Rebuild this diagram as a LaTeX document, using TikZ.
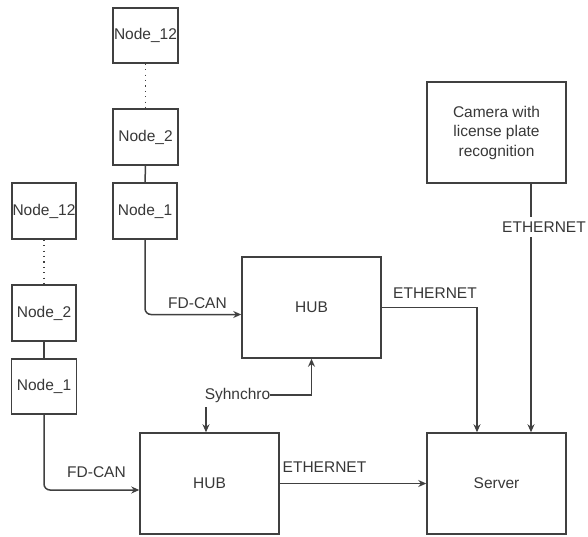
\documentclass[tikz,border=0pt]{standalone}
\usepackage{fontspec}
\setmainfont{Liberation Sans}
\usetikzlibrary{arrows.meta,calc}
\definecolor{ln}{HTML}{404040}
\definecolor{tx}{HTML}{383838}
\begin{document}
\begin{tikzpicture}[x=1pt,y=-1pt,
  font=\fontsize{15.5}{19.5}\selectfont,
  box/.style={draw=ln, line width=1.5pt, inner sep=0pt, text=tx, align=center},
  con/.style={draw=ln, line width=1.5pt},
  arr/.style={con, -{Stealth[length=8pt,width=7pt]}},
  lbl/.style={text=tx, inner sep=0pt}]
\useasboundingbox[fill=white] (0,0) rectangle (588,536);

% top column
\node[box, minimum width=65pt, minimum height=55pt] (tn12) at (145.5,35.5) {Node\_12};
\node[box, minimum width=65pt, minimum height=56pt] (tn2) at (145.5,137) {Node\_2};
\node[box, minimum width=64pt, minimum height=56pt] (tn1) at (145,211) {Node\_1};
% left column
\node[box, minimum width=64pt, minimum height=56pt] (ln12) at (44,211) {Node\_12};
\node[box, minimum width=64pt, minimum height=56pt] (ln2) at (44,313) {Node\_2};
\node[box, minimum width=65pt, minimum height=55pt] (ln1) at (44,386.5) {Node\_1};
% hubs, server, camera
\node[box, minimum width=139pt, minimum height=101pt] (hubT) at (311.5,307.5) {HUB};
\node[box, minimum width=139pt, minimum height=101pt] (hubB) at (209.5,483.5) {HUB};
\node[box, minimum width=139pt, minimum height=101pt] (server) at (496.5,483.5) {Server};
\node[box, minimum width=139pt, minimum height=101pt] (camera) at (496.5,132.5) {Camera with\\license plate\\recognition};

% chains
\draw[con, dash pattern=on 1.3pt off 4.1pt] (tn12) -- (tn2);
\draw[con] (tn2) -- (tn1);
\draw[con, dash pattern=on 1.3pt off 4.1pt] (ln12) -- (ln2);
\draw[con] (ln2) -- (ln1);

% FD-CAN links
\draw[arr, rounded corners=6pt] (tn1.south) |- ($(hubT.west)+(0,7)$);
\node[lbl] (fd1) at (197.5,303) {FD-CAN};
\draw[arr, rounded corners=6pt] (ln1.south) |- ($(hubB.west)+(0,6.5)$);
\node[lbl] (fd2) at (96.5,472) {FD-CAN};

% Ethernet links
\draw[arr] (hubT.east) -| ($(server.north)+(-19.5,0)$);
\node[lbl] (e1) at (435,293) {ETHERNET};
\draw[arr] (hubB.east) -- (server.west);
\node[lbl] (e2) at (324.5,467) {ETHERNET};
\draw[arr] ($(camera.south)+(34.5,0)$) -- ($(server.north)+(34.5,0)$);
\node[lbl, fill=white, inner ysep=4.5pt] (e3) at (544,227) {ETHERNET};

% synchro
\node[lbl] (syn) at (237.5,395) {Syhnchro};
\draw[arr] (syn.east) -| (hubT.south);
\coordinate (sa) at (206,407);
\draw[arr] (sa) -- (sa |- hubB.north);
\end{tikzpicture}
\end{document}
